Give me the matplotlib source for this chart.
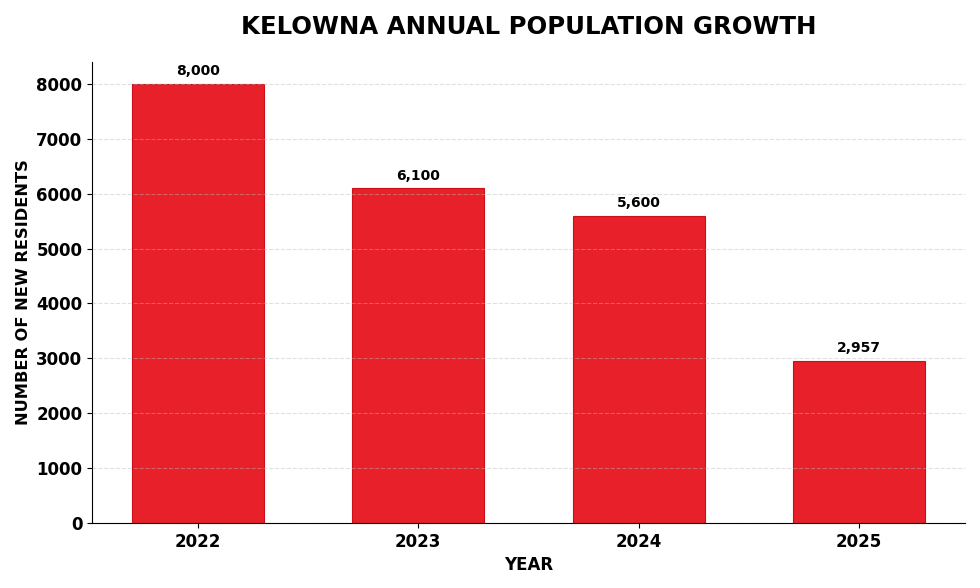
import matplotlib
matplotlib.use("Agg")
import matplotlib.pyplot as plt

years = ["2022", "2023", "2024", "2025"]
new_residents = [8000, 6100, 5600, 2957]

fig = plt.figure(figsize=(9.8, 5.88), dpi=100)
ax = fig.add_axes([92/980, 1 - 523/588, (965-92)/980, (523-62)/588])

x = list(range(len(years)))
bars = ax.bar(x, new_residents, width=0.6, color="#E50712", alpha=0.9,
              edgecolor="#C8000A", linewidth=0.8, zorder=2)
ax.set_axisbelow(False)
ax.yaxis.grid(True, linestyle="--", color="#bbbbbb", alpha=0.45, linewidth=0.8, zorder=3)

for xi, v in zip(x, new_residents):
    ax.text(xi, v + 100, f"{v:,}", ha="center", va="bottom",
            fontsize=10, fontweight="bold")

ax.set_xticks(x)
ax.set_xticklabels(years, fontsize=12, fontweight="bold")
ax.set_ylim(0, 8400)
ax.set_yticks(range(0, 8001, 1000))
ax.set_yticklabels([str(t) for t in range(0, 8001, 1000)], fontsize=12, fontweight="bold")
ax.set_xlabel("YEAR", fontsize=12, fontweight="bold", labelpad=4)
ax.set_ylabel("NUMBER OF NEW RESIDENTS", fontsize=11.7, fontweight="bold")
ax.spines["top"].set_visible(False)
ax.spines["right"].set_visible(False)
ax.set_title("KELOWNA ANNUAL POPULATION GROWTH", fontsize=17.6, fontweight="bold", pad=20)

fig.savefig("out.png", dpi=100)
